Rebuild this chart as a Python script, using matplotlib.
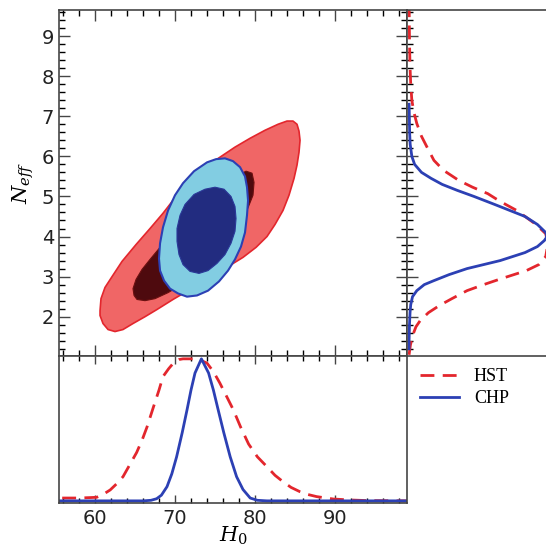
import matplotlib
matplotlib.use("Agg")
import matplotlib.pyplot as plt
from matplotlib.ticker import MultipleLocator

# contour outlines (H0, Neff)
hst95_h0 = [60.63, 60.75, 61.25, 62.13, 63.38, 65.13, 66.88, 68.5, 70.13, 71.88, 73.75, 75.63,
            77.5, 79.38, 81.25, 82.88, 84.0, 84.75, 85.25, 85.5, 85.63, 85.5, 85.25, 84.88,
            84.25, 83.5, 82.5, 81.5, 80.13, 78.5, 76.63, 74.38, 71.88, 69.75, 67.75, 66.25,
            64.75, 63.5, 62.5, 61.63, 61.0, 60.63]
hst95_n = [2.15, 2.45, 2.73, 3.0, 3.38, 3.8, 4.2, 4.58, 5.0, 5.43, 5.73, 5.98,
           6.23, 6.45, 6.65, 6.8, 6.88, 6.88, 6.8, 6.63, 6.4, 6.1, 5.78, 5.45,
           5.03, 4.65, 4.3, 4.0, 3.73, 3.48, 3.25, 2.98, 2.68, 2.43, 2.18, 2.0,
           1.83, 1.68, 1.63, 1.68, 1.83, 2.03]

hst68_h0 = [65.25, 64.88, 64.75, 65.13, 65.88, 66.88, 68.13, 69.63, 71.25, 73.75, 76.63, 78.88,
            79.63, 79.88, 79.75, 78.75, 76.25, 73.75, 71.25, 69.13, 67.5, 66.25]
hst68_n = [2.43, 2.53, 2.7, 2.93, 3.18, 3.43, 3.73, 4.1, 4.48, 4.98, 5.4, 5.63,
           5.58, 5.35, 5.03, 4.53, 3.78, 3.28, 2.85, 2.6, 2.45, 2.4]

chp95_h0 = [74.0, 75.13, 76.25, 77.25, 78.13, 78.75, 79.0, 79.13, 79.0, 78.75, 78.25, 77.5,
            76.63, 75.5, 74.13, 72.75, 71.5, 70.38, 69.38, 68.63, 68.13, 68.0, 68.13, 68.5,
            69.13, 70.0, 71.0, 72.38]
chp95_n = [5.85, 5.93, 5.95, 5.88, 5.73, 5.5, 5.23, 4.9, 4.53, 4.1, 3.75, 3.43,
           3.15, 2.88, 2.65, 2.53, 2.5, 2.58, 2.7, 2.9, 3.15, 3.45, 3.83, 4.23,
           4.65, 5.03, 5.33, 5.63]

chp68_h0 = [73.75, 75.0, 76.13, 77.0, 77.5, 77.63, 77.5, 77.0, 76.25, 75.25, 74.13, 73.0,
            71.88, 71.0, 70.5, 70.25, 70.25, 70.63, 71.25, 72.38]
chp68_n = [5.18, 5.23, 5.18, 5.0, 4.75, 4.45, 4.13, 3.83, 3.55, 3.33, 3.15, 3.08,
           3.13, 3.3, 3.55, 3.88, 4.2, 4.53, 4.8, 5.05]

# H0 marginals
hst_h0 = [55.9, 58.0, 60.2, 61.0, 61.9, 62.7, 63.5, 64.3, 65.2, 65.9, 66.5, 67.3, 68.0, 68.5,
          69.2, 69.8, 70.5, 71.0, 72.3, 73.2, 74.0, 74.8, 75.6, 76.5, 77.3, 78.2, 79.2, 80.3,
          81.5, 82.5, 83.5, 84.5, 85.6, 86.6, 87.7, 89.8, 92.0, 94.0, 99.0]
hst_h0_p = [0.02, 0.02, 0.025, 0.045, 0.077, 0.12, 0.17, 0.25, 0.34, 0.43, 0.52, 0.66, 0.78, 0.875,
            0.93, 0.97, 0.995, 1.0, 1.0, 0.99, 0.97, 0.91, 0.83, 0.73, 0.64, 0.52, 0.40, 0.31,
            0.24, 0.18, 0.135, 0.095, 0.065, 0.045, 0.03, 0.013, 0.006, 0.002, 0.0]
chp_h0 = [55.5, 66.0, 67.0, 67.7, 68.3, 69.0, 69.6, 70.2, 70.9, 71.5, 72.0, 72.5, 73.3, 74.2,
          74.8, 75.4, 76.1, 76.9, 77.7, 78.5, 79.4, 80.3, 81.5, 99.0]
chp_h0_p = [0.0, 0.0, 0.004, 0.015, 0.04, 0.10, 0.19, 0.31, 0.48, 0.64, 0.78, 0.90, 1.0, 0.90,
            0.78, 0.64, 0.48, 0.31, 0.17, 0.08, 0.02, 0.004, 0.0, 0.0]

# Neff marginals
hst_n = [1.05, 1.3, 1.57, 1.75, 1.9, 2.1, 2.28, 2.45, 2.65, 2.8, 2.94, 3.15, 3.3, 3.5, 3.7, 3.9,
         4.07, 4.3, 4.5, 4.65, 4.8, 4.94, 5.07, 5.23, 5.4, 5.65, 5.9, 6.23, 6.5, 6.82, 7.1, 7.4,
         7.8, 8.23, 8.7, 9.2, 9.65]
hst_n_p = [0.0, 0.01, 0.03, 0.05, 0.08, 0.14, 0.22, 0.31, 0.42, 0.54, 0.66, 0.85, 0.94, 0.99, 1.0, 1.0,
           0.99, 0.92, 0.84, 0.78, 0.70, 0.63, 0.57, 0.46, 0.36, 0.25, 0.18, 0.13, 0.09, 0.056, 0.035, 0.02,
           0.012, 0.007, 0.004, 0.002, 0.001]
chp_n = [1.2, 1.4, 1.8, 2.1, 2.3, 2.5, 2.65, 2.8, 2.9, 3.05, 3.2, 3.4, 3.6, 3.75, 3.9, 4.0, 4.1,
         4.3, 4.5, 4.8, 5.0, 5.15, 5.3, 5.45, 5.6, 5.8, 6.0, 6.3, 6.6, 7.0, 7.3]
chp_n_p = [0.0, 0.0, 0.003, 0.007, 0.012, 0.025, 0.056, 0.11, 0.18, 0.29, 0.42, 0.66, 0.84, 0.93, 0.98, 1.0, 0.99,
           0.93, 0.84, 0.62, 0.47, 0.35, 0.24, 0.16, 0.09, 0.04, 0.02, 0.008, 0.004, 0.002, 0.0]

red = "#e3262d"
red_fill = "#f06666"
dark_red = "#4e0a0e"
blue = "#2c40b4"
light_blue = "#82cde2"
navy = "#222c80"
spine_c = "#454545"

plt.rcParams["font.family"] = "DejaVu Sans"
plt.rcParams["mathtext.fontset"] = "dejavuserif"

fig = plt.figure(figsize=(5.46, 5.47), dpi=100)
W, H = 546.0, 547.0
x0, x1 = 59 / W, 407 / W
ytop, ymid, ybot = 1 - 10 / H, 1 - 356 / H, 1 - 503 / H

ax = fig.add_axes([x0, ymid, x1 - x0, ytop - ymid])
axb = fig.add_axes([x0, ybot, x1 - x0, ymid - ybot], sharex=ax)
axr = fig.add_axes([x1, ymid, 147 / W, ytop - ymid], sharey=ax)

# 2D contours
ax.fill(hst95_h0, hst95_n, facecolor=red_fill, edgecolor=red, lw=1.2, joinstyle="round", zorder=1)
ax.fill(hst68_h0, hst68_n, facecolor=dark_red, edgecolor="#6a1010", lw=0.8, joinstyle="round", zorder=2)
ax.fill(chp95_h0, chp95_n, facecolor=light_blue, edgecolor=blue, lw=1.5, joinstyle="round", zorder=3)
ax.fill(chp68_h0, chp68_n, facecolor=navy, edgecolor="#2a3898", lw=0.8, joinstyle="round", zorder=4)

ax.set_xlim(55.5, 99)
ax.set_ylim(1.02, 9.65)
ax.yaxis.set_major_locator(MultipleLocator(1))
ax.yaxis.set_minor_locator(MultipleLocator(0.2))
ax.xaxis.set_major_locator(MultipleLocator(10))
ax.xaxis.set_minor_locator(MultipleLocator(2))
ax.set_ylabel(r"$N_{eff}$", fontsize=15, labelpad=4)

# H0 marginal
axb.plot(hst_h0, hst_h0_p, color=red, lw=2, ls=(0, (5, 3)), label="HST")
axb.plot(chp_h0, chp_h0_p, color=blue, lw=2, label="CHP")
axb.set_ylim(-0.015, 1.02)
axb.set_yticks([])
axb.set_xlabel(r"$H_0$", fontsize=15, labelpad=-2)

# Neff marginal
axr.plot(hst_n_p, hst_n, color=red, lw=2, ls=(0, (5, 3)))
axr.plot(chp_n_p, chp_n, color=blue, lw=2)
axr.set_xlim(-0.015, 1.05)
axr.set_xticks([])

for a in (ax, axb, axr):
    for s in a.spines.values():
        s.set_color(spine_c)
        s.set_linewidth(1.2)
    a.tick_params(colors=spine_c, labelcolor="#222222", labelsize=14)

ax.tick_params(which="both", direction="in", top=True, right=True, bottom=True, left=True,
               labelbottom=False, width=1)
ax.tick_params(which="major", length=8)
ax.tick_params(which="minor", length=4)

axb.tick_params(which="both", direction="in", top=True, bottom=True, left=False, right=False,
                labelbottom=True, width=1, pad=4)
axb.tick_params(which="major", length=6)
axb.tick_params(which="minor", length=3.5)

axr.tick_params(axis="y", which="both", direction="in", left=True, right=False,
                labelleft=False, width=1)
axr.tick_params(axis="y", which="major", length=8)
axr.tick_params(axis="y", which="minor", length=4)
axr.spines["right"].set_visible(False)

axb.legend(loc="upper left", bbox_to_anchor=(0.99, 1.03), frameon=False, handlelength=2.2,
           handletextpad=0.8, labelspacing=0.3, prop={"family": "Liberation Serif", "size": 13})

fig.savefig("out.png", dpi=100)
